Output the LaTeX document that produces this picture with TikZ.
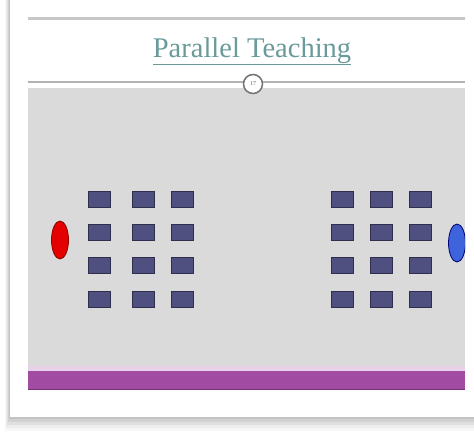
\documentclass[tikz,border=0pt]{standalone}
\usepackage{fontspec}
\setmainfont{Liberation Serif}
\definecolor{slidegray}{HTML}{DADADA}
\definecolor{deskblue}{HTML}{4F4F80}
\definecolor{barpurple}{HTML}{A24BA2}
\definecolor{titleteal}{HTML}{6A9A9A}
\definecolor{teacherblue}{HTML}{3D63DD}
\tikzset{
    desk/.style={fill=deskblue, draw=deskblue!60!black, line width=0.8pt},
}
\begin{document}
\begin{tikzpicture}[x=1pt, y=-1pt]
    \useasboundingbox (0,0) rectangle (474,434);
    \fill[white] (0,0) rectangle (474,434);

    % card with soft shadow
    \foreach \d/\op in {14/0.03, 11/0.04, 8/0.05, 5/0.06, 2/0.07} {
        \fill[black, opacity=\op] ({10-\d/3},0) rectangle (474,{417+\d});
    }
    \fill[white] (10,0) rectangle (474,417);

    % top rule and title
    \draw[black!22, line width=3pt] (28,18.5) -- (465,18.5);
    \node[titleteal, font=\fontsize{28.5}{32}\selectfont, anchor=base] (title) at (252,57)
        {\underline{Parallel Teaching}};

    % gray slide area
    \fill[slidegray] (28,88) rectangle (465,366);
    \draw[black!30, line width=1.2pt] (28,82) -- (465,82);
    \node[circle, draw=black!55, fill=white, line width=1.5pt, minimum size=19pt,
        inner sep=0pt, font=\fontsize{6}{7}\selectfont, text=black!60] (page) at (253,84) {17};

    % thin light line and purple bar
    \fill[barpurple!25] (28,366) rectangle (465,371);
    \fill[barpurple] (28,371) rectangle (465,389);
    \draw[barpurple!70!black, line width=0.6pt] (28,389) -- (465,389);

    % two groups of desks, 3 columns x 4 rows
    \foreach \cx in {88, 132, 171, 331, 370, 409} {
        \foreach \cy in {191, 224, 257, 291} {
            \filldraw[desk] (\cx,\cy) rectangle ++(22,16);
        }
    }

    % teachers
    \filldraw[fill=red!90!black, draw=red!55!black, line width=0.8pt] (60,240) ellipse (8.5 and 19);
    \begin{scope}
        \clip (28,88) rectangle (465,366);
        \filldraw[fill=teacherblue, draw=blue!45!black, line width=0.8pt]
            (457,243) ellipse (8.5 and 19);
    \end{scope}
\end{tikzpicture}
\end{document}
